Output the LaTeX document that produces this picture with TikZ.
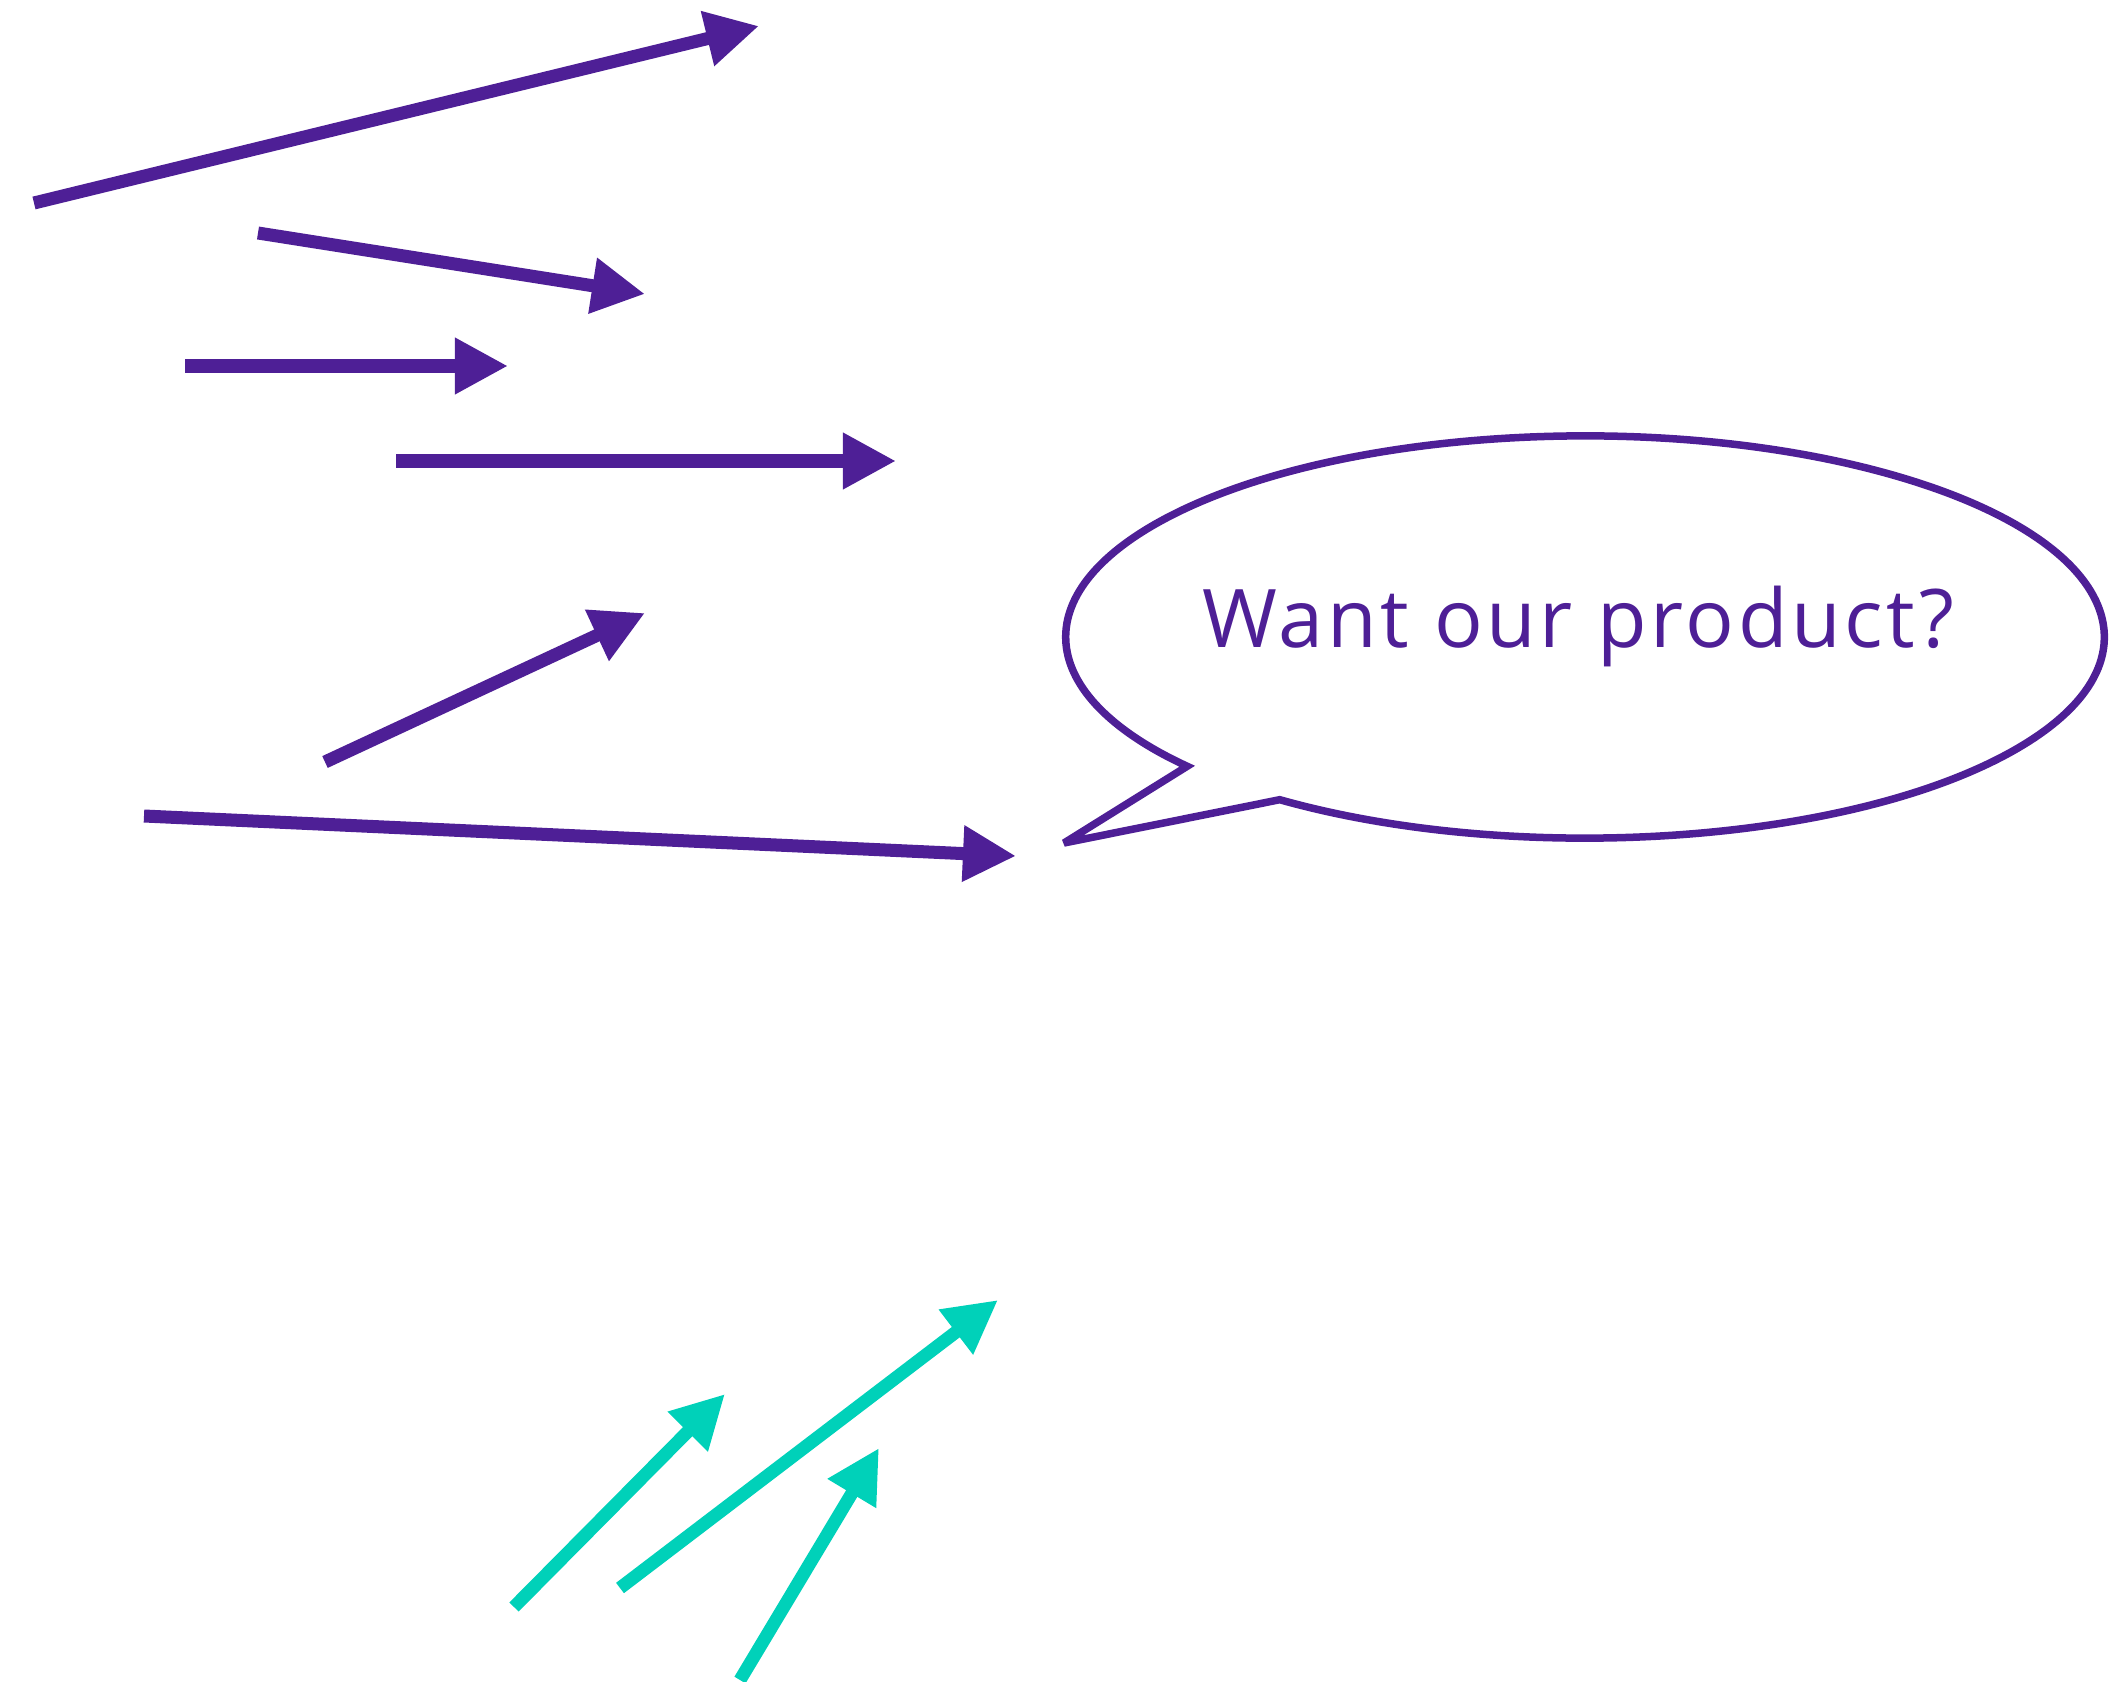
\documentclass[tikz,border=0pt]{standalone}
\usepackage{fontspec}
\setmainfont{Open Sans}
\newfontfamily\bubblefont[LetterSpace=4.5]{Open Sans}
\usetikzlibrary{arrows.meta,calc}
\definecolor{plum}{HTML}{4E1F96}
\definecolor{mint}{HTML}{00D1B9}

\begin{document}
\begin{tikzpicture}[
  x=0.01cm, y=-0.01cm,
  ptr/.style={-{Triangle[length=0.53cm,width=0.53cm]}, line width=0.13cm, plum},
  tptr/.style={ptr, mint},
  bubble/.style={draw=plum, line width=0.075cm, line join=miter, miter limit=4},
  say/.style={text=plum, font=\bubblefont\fontsize{23}{27}\selectfont}
]
  \useasboundingbox (0,0) rectangle (2126,1682);

  \coordinate (s1) at (34,203);   \coordinate (e1) at (759,26);
  \coordinate (s2) at (258,233);  \coordinate (e2) at (645,294);
  \coordinate (s3) at (185,366);  \coordinate (e3) at (508,366);
  \coordinate (s4) at (396,461);  \coordinate (e4) at (896,461);
  \coordinate (s5) at (325,762);  \coordinate (e5) at (645,613);
  \coordinate (s6) at (144,816);  \coordinate (e6) at (1016,856);

  \coordinate (t1) at (514,1607); \coordinate (f1) at (725,1394);
  \coordinate (t2) at (620,1588); \coordinate (f2) at (998,1300);
  \coordinate (t3) at (740,1680); \coordinate (f3) at (879,1448);

  \foreach \i in {1,...,6}
    \draw[ptr] (s\i) -- (e\i);
  \foreach \i in {1,2,3}
    \draw[tptr] (t\i) -- (f\i);

  \coordinate (c) at (1585,637);
  \coordinate (tip) at (1064,843);
  \draw[bubble] ($(c)+(234:5.19cm and 2.01cm)$)
    arc[start angle=234, end angle=580, x radius=5.19cm, y radius=2.01cm]
    -- (tip) -- cycle;
  \node[say] (q) at (1578,626) {Want our product?};
\end{tikzpicture}
\end{document}
